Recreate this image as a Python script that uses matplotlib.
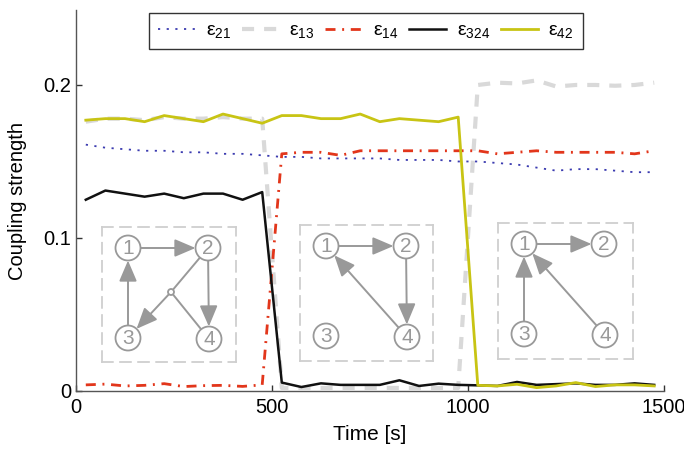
import numpy as np
import matplotlib
matplotlib.use("Agg")
import matplotlib.pyplot as plt
from matplotlib.patches import Circle, FancyArrowPatch

plt.rcParams['font.family'] = ['Liberation Sans', 'DejaVu Sans']
plt.rcParams['mathtext.fontset'] = 'custom'
plt.rcParams['mathtext.rm'] = 'Liberation Sans'
plt.rcParams['mathtext.it'] = 'Liberation Sans'
plt.rcParams['font.size'] = 14

# ---------------- data ----------------
time = [25, 75, 125, 175, 225, 275, 325, 375, 425, 475,
        525, 575, 625, 675, 725, 775, 825, 875, 925, 975,
        1025, 1075, 1125, 1175, 1225, 1275, 1325, 1375, 1425, 1475]

e21 = [0.161, 0.159, 0.158, 0.157, 0.157, 0.156, 0.156, 0.155, 0.155, 0.154,
       0.153, 0.153, 0.152, 0.152, 0.152, 0.152, 0.151, 0.151, 0.151, 0.150,
       0.150, 0.149, 0.148, 0.146, 0.144, 0.145, 0.145, 0.144, 0.143, 0.143]

e13 = [0.176, 0.178, 0.178, 0.177, 0.179, 0.178, 0.178, 0.179, 0.178, 0.178,
       0.002, 0.002, 0.002, 0.002, 0.002, 0.002, 0.002, 0.002, 0.002, 0.002,
       0.200, 0.2015, 0.201, 0.203, 0.199, 0.200, 0.200, 0.1995, 0.200, 0.2015]

e14 = [0.004, 0.0045, 0.0033, 0.0037, 0.0048, 0.0029, 0.0035, 0.0037, 0.003, 0.004,
       0.155, 0.156, 0.156, 0.154, 0.157, 0.157, 0.157, 0.157, 0.157, 0.157,
       0.157, 0.155, 0.156, 0.157, 0.156, 0.156, 0.156, 0.156, 0.155, 0.157]

e324 = [0.125, 0.131, 0.129, 0.127, 0.129, 0.126, 0.129, 0.129, 0.125, 0.130,
        0.0055, 0.0026, 0.005, 0.004, 0.004, 0.004, 0.007, 0.0033, 0.0048, 0.004,
        0.0037, 0.0033, 0.0059, 0.004, 0.0045, 0.005, 0.004, 0.004, 0.005, 0.004]

e42 = [0.177, 0.178, 0.178, 0.176, 0.180, 0.178, 0.176, 0.181, 0.178, 0.175,
       0.180, 0.180, 0.178, 0.178, 0.181, 0.176, 0.178, 0.177, 0.176, 0.179,
       0.0037, 0.0033, 0.0044, 0.0022, 0.0033, 0.0055, 0.0029, 0.004, 0.004, 0.0033]

labels = ['ε$_{21}$', 'ε$_{13}$', 'ε$_{14}$', 'ε$_{324}$', 'ε$_{42}$']
xticks = [0, 500, 1000, 1500]
yticks = [0, 0.1, 0.2]
ytick_labels = ['0', '0.1', '0.2']

# graph insets: node labels, edges (src, dst) and hyperedges ((src1, src2), dst)
node_names = ['1', '2', '3', '4']
inset_edges = [
    [(0, 1), (2, 0), (1, 3)],
    [(0, 1), (1, 3), (3, 0)],
    [(0, 1), (2, 0), (3, 0)],
]
inset_hyper = [[((1, 3), 2)], [], []]

# ---------------- figure ----------------
W, H = 684, 451
fig = plt.figure(figsize=(W / 100, H / 100), dpi=100)
ax = fig.add_axes([76 / W, (H - 391) / H, (664 - 76) / W, (391 - 10) / H])

ax.plot(time, e21, color='#3b3bb0', lw=1.3, ls=(0, (1.2, 3.6)), label=labels[0])
ax.plot(time, e13, color='#d9d9d9', lw=3.0, ls=(0, (2.9, 2.4)), label=labels[1])
ax.plot(time, e14, color='#e2361b', lw=2.0, ls=(0, (3.6, 2.4, 0.7, 2.4)), label=labels[2])
ax.plot(time, e324, color='#111111', lw=1.8, label=labels[3])
ax.plot(time, e42, color='#c8c414', lw=2.0, label=labels[4])

ax.set_xlim(0, 1500)
ax.set_ylim(0, 0.249)
ax.set_xticks(xticks)
ax.set_yticks(yticks)
ax.set_yticklabels(ytick_labels)
ax.tick_params(direction='in', length=4, width=1, colors='#333333', labelcolor='black',
               labelsize=14.5)
ax.tick_params(axis='x', pad=5)
for s in ['top', 'right']:
    ax.spines[s].set_visible(False)
for s in ['left', 'bottom']:
    ax.spines[s].set_color('#555555')
    ax.spines[s].set_linewidth(1.0)
ax.set_xlabel('Time [s]', fontsize=15, labelpad=6)
ax.set_ylabel('Coupling strength', fontsize=14.5, labelpad=12)

leg = ax.legend(loc='upper center', bbox_to_anchor=(0.493, 0.992), ncol=5, frameon=True,
                fancybox=False, edgecolor='black', handlelength=1.9, handletextpad=0.55,
                columnspacing=0.55, borderpad=0.45, fontsize=14, borderaxespad=0.0)
leg.get_frame().set_linewidth(1.0)

# ---------------- graph insets ----------------
boxes = [(102, 227, 134, 135), (300, 225, 133, 136), (498, 223, 135, 136)]
node_pos = [(26, 21), (106, 21), (26, 111), (107, 112)]
R = 12.5
gcol = '#999999'
astyle = '-|>,head_length=0.75,head_width=0.32'


def shorten(p, q, r0, r1):
    p = np.array(p, float); q = np.array(q, float)
    d = q - p
    u = d / np.linalg.norm(d)
    return p + u * r0, q - u * r1


for bi, (bx, by, bw, bh) in enumerate(boxes):
    iax = fig.add_axes([bx / W, (H - by - bh) / H, bw / W, bh / H])
    iax.set_xlim(0, bw)
    iax.set_ylim(bh, 0)
    iax.set_xticks([]); iax.set_yticks([])
    iax.patch.set_alpha(0)
    for s in iax.spines.values():
        s.set_color('#cfcfcf')
        s.set_linewidth(1.3)
        s.set_linestyle((0, (6, 4)))
    for (a, b) in inset_edges[bi]:
        p0, p1 = shorten(node_pos[a], node_pos[b], R, R)
        iax.add_patch(FancyArrowPatch(p0, p1, arrowstyle=astyle,
                                      mutation_scale=17, color=gcol, lw=1.4,
                                      shrinkA=0, shrinkB=0))
    for (srcs, dst) in inset_hyper[bi]:
        j = (69, 65)
        for s_ in srcs:
            p0, p1 = shorten(node_pos[s_], j, R, 3)
            iax.plot([p0[0], p1[0]], [p0[1], p1[1]], color=gcol, lw=1.4)
        p0, p1 = shorten(j, node_pos[dst], 3, R)
        iax.add_patch(FancyArrowPatch(p0, p1, arrowstyle=astyle,
                                      mutation_scale=17, color=gcol, lw=1.4,
                                      shrinkA=0, shrinkB=0))
        iax.add_patch(Circle(j, 3, facecolor='white', edgecolor=gcol, lw=1.3, zorder=5))
    for k, (nx, ny) in enumerate(node_pos):
        iax.add_patch(Circle((nx, ny), R, facecolor='white', edgecolor=gcol, lw=1.3, zorder=6))
        iax.text(nx, ny + 0.5, node_names[k], ha='center', va='center', color=gcol,
                 fontsize=15, zorder=7)

fig.savefig('out.png', dpi=100)
